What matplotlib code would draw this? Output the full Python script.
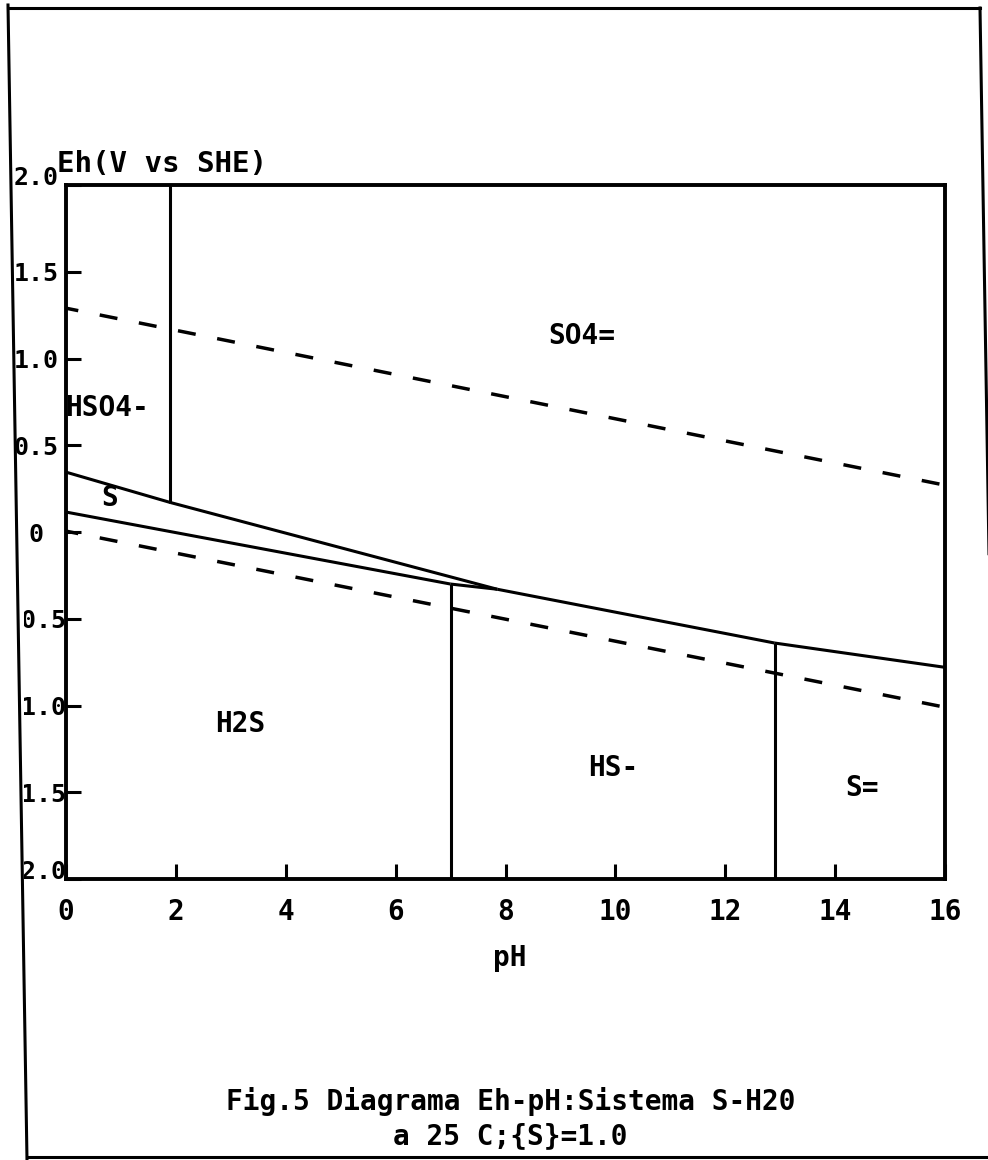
import matplotlib
matplotlib.use('Agg')
import matplotlib.pyplot as plt
from matplotlib.lines import Line2D
from matplotlib.transforms import Bbox, TransformedBbox

plt.rcParams['font.family'] = 'DejaVu Sans Mono'
plt.rcParams['font.weight'] = 'bold'
plt.rcParams['axes.labelweight'] = 'bold'

# ejes
ph_ticks = [0, 2, 4, 6, 8, 10, 12, 14, 16]
ph_labels = ['0', '2', '4', '6', '8', '10', '12', '14', '16']
eh_ticks = [2.0, 1.5, 1.0, 0.5, 0.0, -0.5, -1.0, -1.5, -2.0]
eh_labels = ['2.0', '1.5', '1.0', '0.5', '0', '-0.5', '-1.0', '-1.5', '-2.0']

# lineas de estabilidad del agua (discontinuas)
o2_ph = [0, 16]
o2_eh = [1.29, 0.27]
h2_ph = [0, 16]
h2_eh = [0.005, -1.01]

# limites entre especies (continuas)
hso4_s_ph = [0, 1.9]
hso4_s_eh = [0.345, 0.17]
so4_s_ph = [1.9, 7.85]
so4_s_eh = [0.17, -0.33]
s_h2s_ph = [0, 7.0]
s_h2s_eh = [0.115, -0.30]
s_hs_ph = [7.0, 7.85]
s_hs_eh = [-0.30, -0.33]
so4_hs_ph = [7.85, 12.9]
so4_hs_eh = [-0.33, -0.64]
so4_s2_ph = [12.9, 16]
so4_s2_eh = [-0.64, -0.78]
hso4_so4_ph = [1.9, 1.9]
hso4_so4_eh = [2.0, 0.17]
h2s_hs_ph = [7.0, 7.0]
h2s_hs_eh = [-0.30, -2.0]
hs_s2_ph = [12.9, 12.9]
hs_s2_eh = [-0.64, -2.0]

# especies
species = ['SO4=', 'HSO4-', 'S', 'H2S', 'HS-', 'S=']
species_ph = [9.39, 0.75, 0.80, 3.17, 9.96, 14.49]
species_eh = [1.13, 0.715, 0.195, -1.107, -1.36, -1.475]

W, H = 988, 1160
fig = plt.figure(figsize=(W / 100, H / 100), dpi=100)
ax = fig.add_axes([66 / W, 1 - 879 / H, 879 / W, 694 / H])

solid = [(hso4_s_ph, hso4_s_eh), (so4_s_ph, so4_s_eh), (s_h2s_ph, s_h2s_eh),
         (s_hs_ph, s_hs_eh), (so4_hs_ph, so4_hs_eh), (so4_s2_ph, so4_s2_eh),
         (hso4_so4_ph, hso4_so4_eh), (h2s_hs_ph, h2s_hs_eh), (hs_s2_ph, hs_s2_eh)]
for x, y in solid:
    ax.plot(x, y, color='black', lw=2.2, solid_capstyle='butt')

dash = (1.6, (5.2, 6.3))
ax.plot(o2_ph, o2_eh, color='black', lw=2.5, linestyle=dash)
ax.plot(h2_ph, h2_eh, color='black', lw=2.5, linestyle=dash)

for name, x, y in zip(species, species_ph, species_eh):
    ax.text(x, y, name, fontsize=20, ha='center', va='center')

ax.set_xlim(0, 16)
ax.set_ylim(-2, 2)
ax.set_xticks(ph_ticks, ph_labels)
ax.set_yticks(eh_ticks, eh_labels)
for s in ax.spines.values():
    s.set_linewidth(2.8)
ax.tick_params(direction='in', length=11, width=2.2)
ax.tick_params(axis='x', labelsize=20, pad=14)
ax.tick_params(axis='y', labelsize=18, pad=21.6)

clip = TransformedBbox(Bbox.from_extents(24 / W, 0, 1, 1), fig.transFigure)
ylabs = ax.get_yticklabels()
for lbl in ylabs:
    lbl.set_ha('center')
    if lbl.get_text().startswith('-'):
        lbl.set_clip_box(clip)
        lbl.set_clip_on(True)
ylabs[0].set_va('baseline')
ylabs[-1].set_va('baseline')

ax.set_ylabel('Eh(V vs SHE)', fontsize=21, rotation=0, ha='left', va='baseline')
ax.yaxis.set_label_coords(-0.010, 1.0187)
ax.set_xlabel('pH', fontsize=20, va='baseline')
ax.xaxis.set_label_coords(0.505, -0.1254)

fig.text(511 / W, 1 - 1110 / H, 'Fig.5 Diagrama Eh-pH:Sistema S-H20',
         fontsize=20, ha='center', va='baseline')
fig.text(510 / W, 1 - 1144 / H, 'a 25 C;{S}=1.0',
         fontsize=20, ha='center', va='baseline')

# marco de la pagina
frame = [([8, 27], [5, H]), ([8, 980], [8, 8]), ([980, 999], [8, H]),
         ([27, W], [1157, 1157])]
for xs, ys in frame:
    fig.add_artist(Line2D([v / W for v in xs], [1 - v / H for v in ys],
                          transform=fig.transFigure, color='black', lw=2.2))

fig.savefig('out.png', dpi=100)
